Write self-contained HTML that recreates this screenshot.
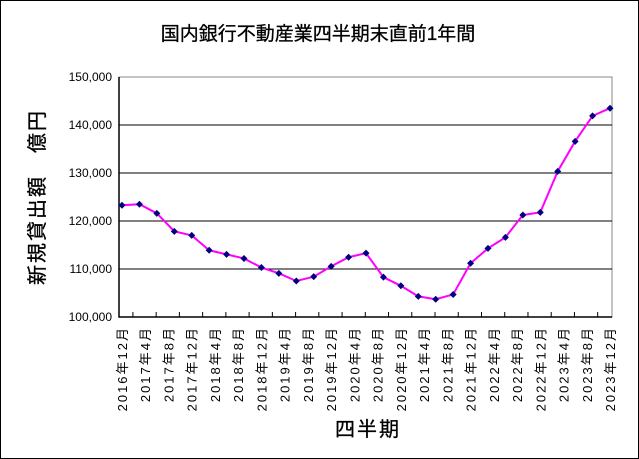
<!DOCTYPE html>
<html><head><meta charset="utf-8"><style>
body{margin:0;background:#fff;}
svg{display:block;font-family:"Liberation Sans","Noto Sans CJK JP",sans-serif;}
</style></head><body>
<svg id="chart" width="639" height="459" viewBox="0 0 639 459" xmlns="http://www.w3.org/2000/svg">
<rect x="0.5" y="0.5" width="638" height="458" fill="#fff" stroke="#000"/>
<text x="318" y="40" font-size="19" text-anchor="middle" stroke="#000" stroke-width="0.3">国内銀行不動産業四半期末直前1年間</text>
<text transform="translate(44,197) rotate(-90)" font-size="20" letter-spacing="2" text-anchor="middle" stroke="#000" stroke-width="0.3">新規貸出額　億円</text>
<text x="368" y="436" font-size="20" letter-spacing="2" text-anchor="middle" stroke="#000" stroke-width="0.3">四半期</text>
<rect x="119" y="77" width="493" height="240" fill="#fff" stroke="#888"/>
<g id="grid"></g><g id="axes"></g><g id="series"></g>
</svg>
<script>
const values=[123270,123500,121600,117850,117000,113900,113050,112200,110300,109100,107500,108400,110550,112450,113300,108300,106500,104300,103700,104700,111200,114300,116600,121250,121800,130350,136600,141900,143500];
const tickLabels=["2016年12月","2017年4月","2017年8月","2017年12月","2018年4月","2018年8月","2018年12月","2019年4月","2019年8月","2019年12月","2020年4月","2020年8月","2020年12月","2021年4月","2021年8月","2021年12月","2022年4月","2022年8月","2022年12月","2023年4月","2023年8月","2023年12月"];
const yTicks=[100000,110000,120000,130000,140000,150000];
const NS="http://www.w3.org/2000/svg";
const X0=119,X1=612,Y0=317,Y1=77,VMIN=100000,VMAX=150000;
function yScale(v){return Y0-(v-VMIN)/(VMAX-VMIN)*(Y0-Y1);}
function xPoint(i){return 122+i*(610-122)/(values.length-1);}
function xLabel(i){return 122+i*(610-122)/(tickLabels.length-1);}
function mk(tag,attrs,parent){const e=document.createElementNS(NS,tag);for(const k in attrs)e.setAttribute(k,attrs[k]);parent.appendChild(e);return e;}
const grid=document.getElementById('grid'),axes=document.getElementById('axes'),series=document.getElementById('series');
yTicks.forEach(v=>{
  const y=yScale(v);
  if(v>VMIN&&v<VMAX){const l=mk('line',{x1:X0,x2:X1,y1:y,y2:y,stroke:'#000','stroke-width':1},grid);
  
  }
  const t=mk('text',{x:112,y:y+4,'font-size':12,'text-anchor':'end'},axes);
  t.textContent=v.toLocaleString('en-US');
  
  
});
const ax=mk('path',{d:`M${X0} ${Y1}V${Y0}H${X1}`,stroke:'#000',fill:'none','stroke-width':1.5},axes);


tickLabels.forEach((s,i)=>{
  const x=xLabel(i);
  if(i<tickLabels.length-1){const tx=(xLabel(i)+xLabel(i+1))/2-0.7;
  const tk=mk('line',{x1:tx,x2:tx,y1:Y0,y2:Y0-5,stroke:'#000'},axes);
  
  }
  const t=mk('text',{transform:`translate(${x+5},326) rotate(-90)`,'font-size':13,'letter-spacing':2,'text-anchor':'end'},axes);
  t.textContent=s;
  
  
});
const pl=mk('polyline',{points:values.map((v,i)=>xPoint(i)+','+yScale(v)).join(' '),fill:'none',stroke:'#f0f','stroke-width':2},series);


values.forEach((v,i)=>{
  const x=xPoint(i),y=yScale(v);
  const m=mk('path',{d:`M${x} ${y-3.5}L${x+3.5} ${y}L${x} ${y+3.5}L${x-3.5} ${y}Z`,fill:'#000080'},series);
  
  
});
</script>
</body></html>
